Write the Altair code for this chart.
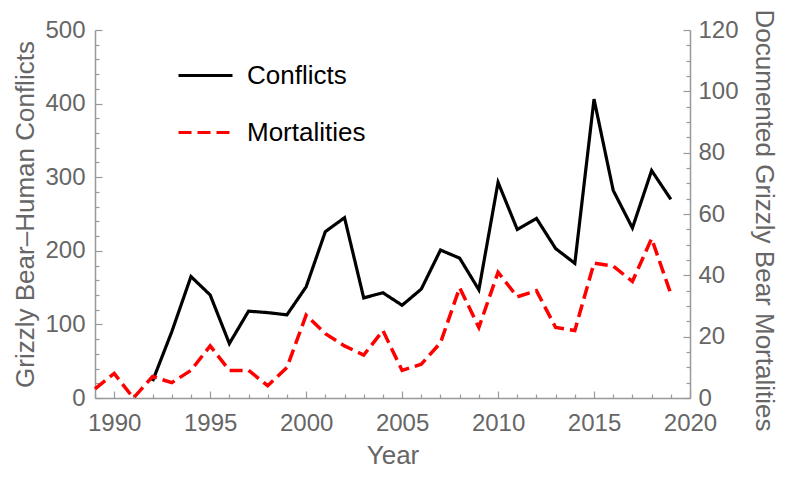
import altair as alt
import pandas as pd

years_m = list(range(1989, 2020))
mortalities = [3, 8, 0, 7, 5, 9, 17, 9, 9, 4, 10, 27, 21, 17, 14, 22, 9, 11, 18, 36,
               23, 41, 33, 35, 23, 22, 44, 43, 38, 52, 34]
years_c = list(range(1992, 2020))
conflicts = [23, 90, 165, 140, 74, 118, 116, 113, 151, 226, 245, 136, 143, 126, 148,
             201, 190, 147, 293, 229, 244, 203, 183, 406, 282, 231, 309, 270]
series = ["Conflicts", "Mortalities"]
colors = ["#000000", "#ff0000"]
dashes = [[1, 0], [13, 6]]

x_ticks = list(range(1989, 2021))
left_ticks = list(range(0, 501, 20))
right_ticks = list(range(0, 121, 5))

FONT = "Liberation Sans"
GRAY = "#666666"
AXIS_GRAY = "#999999"

df_c = pd.DataFrame({"Year": years_c, "Conflicts": conflicts, "Series": "Conflicts"})
df_m = pd.DataFrame({"Year": years_m, "Mortalities": mortalities, "Series": "Mortalities"})

common_axis = dict(
    grid=False,
    domainColor=AXIS_GRAY,
    domainWidth=1.5,
    tickColor=AXIS_GRAY,
    tickWidth=1.2,
    labelFont=FONT,
    labelFontSize=24,
    labelColor=GRAY,
    titleFont=FONT,
    titleFontSize=26,
    titleColor=GRAY,
    titleFontWeight="normal",
    labelOverlap=False,
    labelFlush=False,
)

x = alt.X(
    "Year:Q",
    scale=alt.Scale(domain=[1989, 2020], nice=False, zero=False),
    axis=alt.Axis(
        values=x_ticks,
        format="d",
        labelExpr="datum.value % 5 === 0 ? datum.label : ''",
        tickSize=alt.ExprRef("datum.value % 5 === 0 ? -7 : -4"),
        labelPadding=20,
        labelBaseline="top",
        title="Year",
        titleY=65,
        titleBaseline="alphabetic",
        **common_axis,
    ),
)

legend = alt.Legend(
    title=None,
    orient="none",
    legendX=82,
    legendY=17,
    symbolType="stroke",
    symbolSize=2916,
    symbolStrokeWidth=3,
    labelFont=FONT,
    labelFontSize=26,
    labelColor="#000000",
    labelOffset=13,
    rowPadding=15,
)

color = alt.Color("Series:N", scale=alt.Scale(domain=series, range=colors), legend=legend)
dash = alt.StrokeDash("Series:N", scale=alt.Scale(domain=series, range=dashes), legend=legend)

left = alt.Chart(df_c).mark_line(strokeWidth=3.2).encode(
    x=x,
    y=alt.Y(
        "Conflicts:Q",
        scale=alt.Scale(domain=[0, 500], nice=False),
        axis=alt.Axis(
            orient="left",
            values=left_ticks,
            labelExpr="datum.value % 100 === 0 ? datum.label : ''",
            tickSize=alt.ExprRef("datum.value % 100 === 0 ? -7 : -4"),
            labelPadding=17,
            title="Grizzly Bear–Human Conflicts",
            titleAngle=270,
            titleX=-62,
            titleY=184,
            titleAlign="center",
            titleBaseline="alphabetic",
            **common_axis,
        ),
    ),
    color=color,
    strokeDash=dash,
)

right = alt.Chart(df_m).mark_line(strokeWidth=3.5).encode(
    x=x,
    y=alt.Y(
        "Mortalities:Q",
        scale=alt.Scale(domain=[0, 120], nice=False),
        axis=alt.Axis(
            orient="right",
            values=right_ticks,
            labelExpr="datum.value % 20 === 0 ? datum.label : ''",
            tickSize=alt.ExprRef("datum.value % 20 === 0 ? -7 : -4"),
            labelPadding=15,
            title="Documented Grizzly Bear Mortalities",
            titleAngle=90,
            titleX=65,
            titleY=190,
            titleAlign="center",
            titleBaseline="alphabetic",
            **common_axis,
        ),
    ),
    color=color,
    strokeDash=dash,
)

chart = (
    alt.layer(left, right)
    .resolve_scale(y="independent")
    .properties(
        width=595,
        height=368,
        padding={"left": 87, "top": 22, "right": 90, "bottom": 72},
        autosize=alt.AutoSizeParams(type="none"),
    )
    .configure_view(stroke=None)
)

chart.save("out.html", embed_options={"renderer": "svg", "actions": False})
